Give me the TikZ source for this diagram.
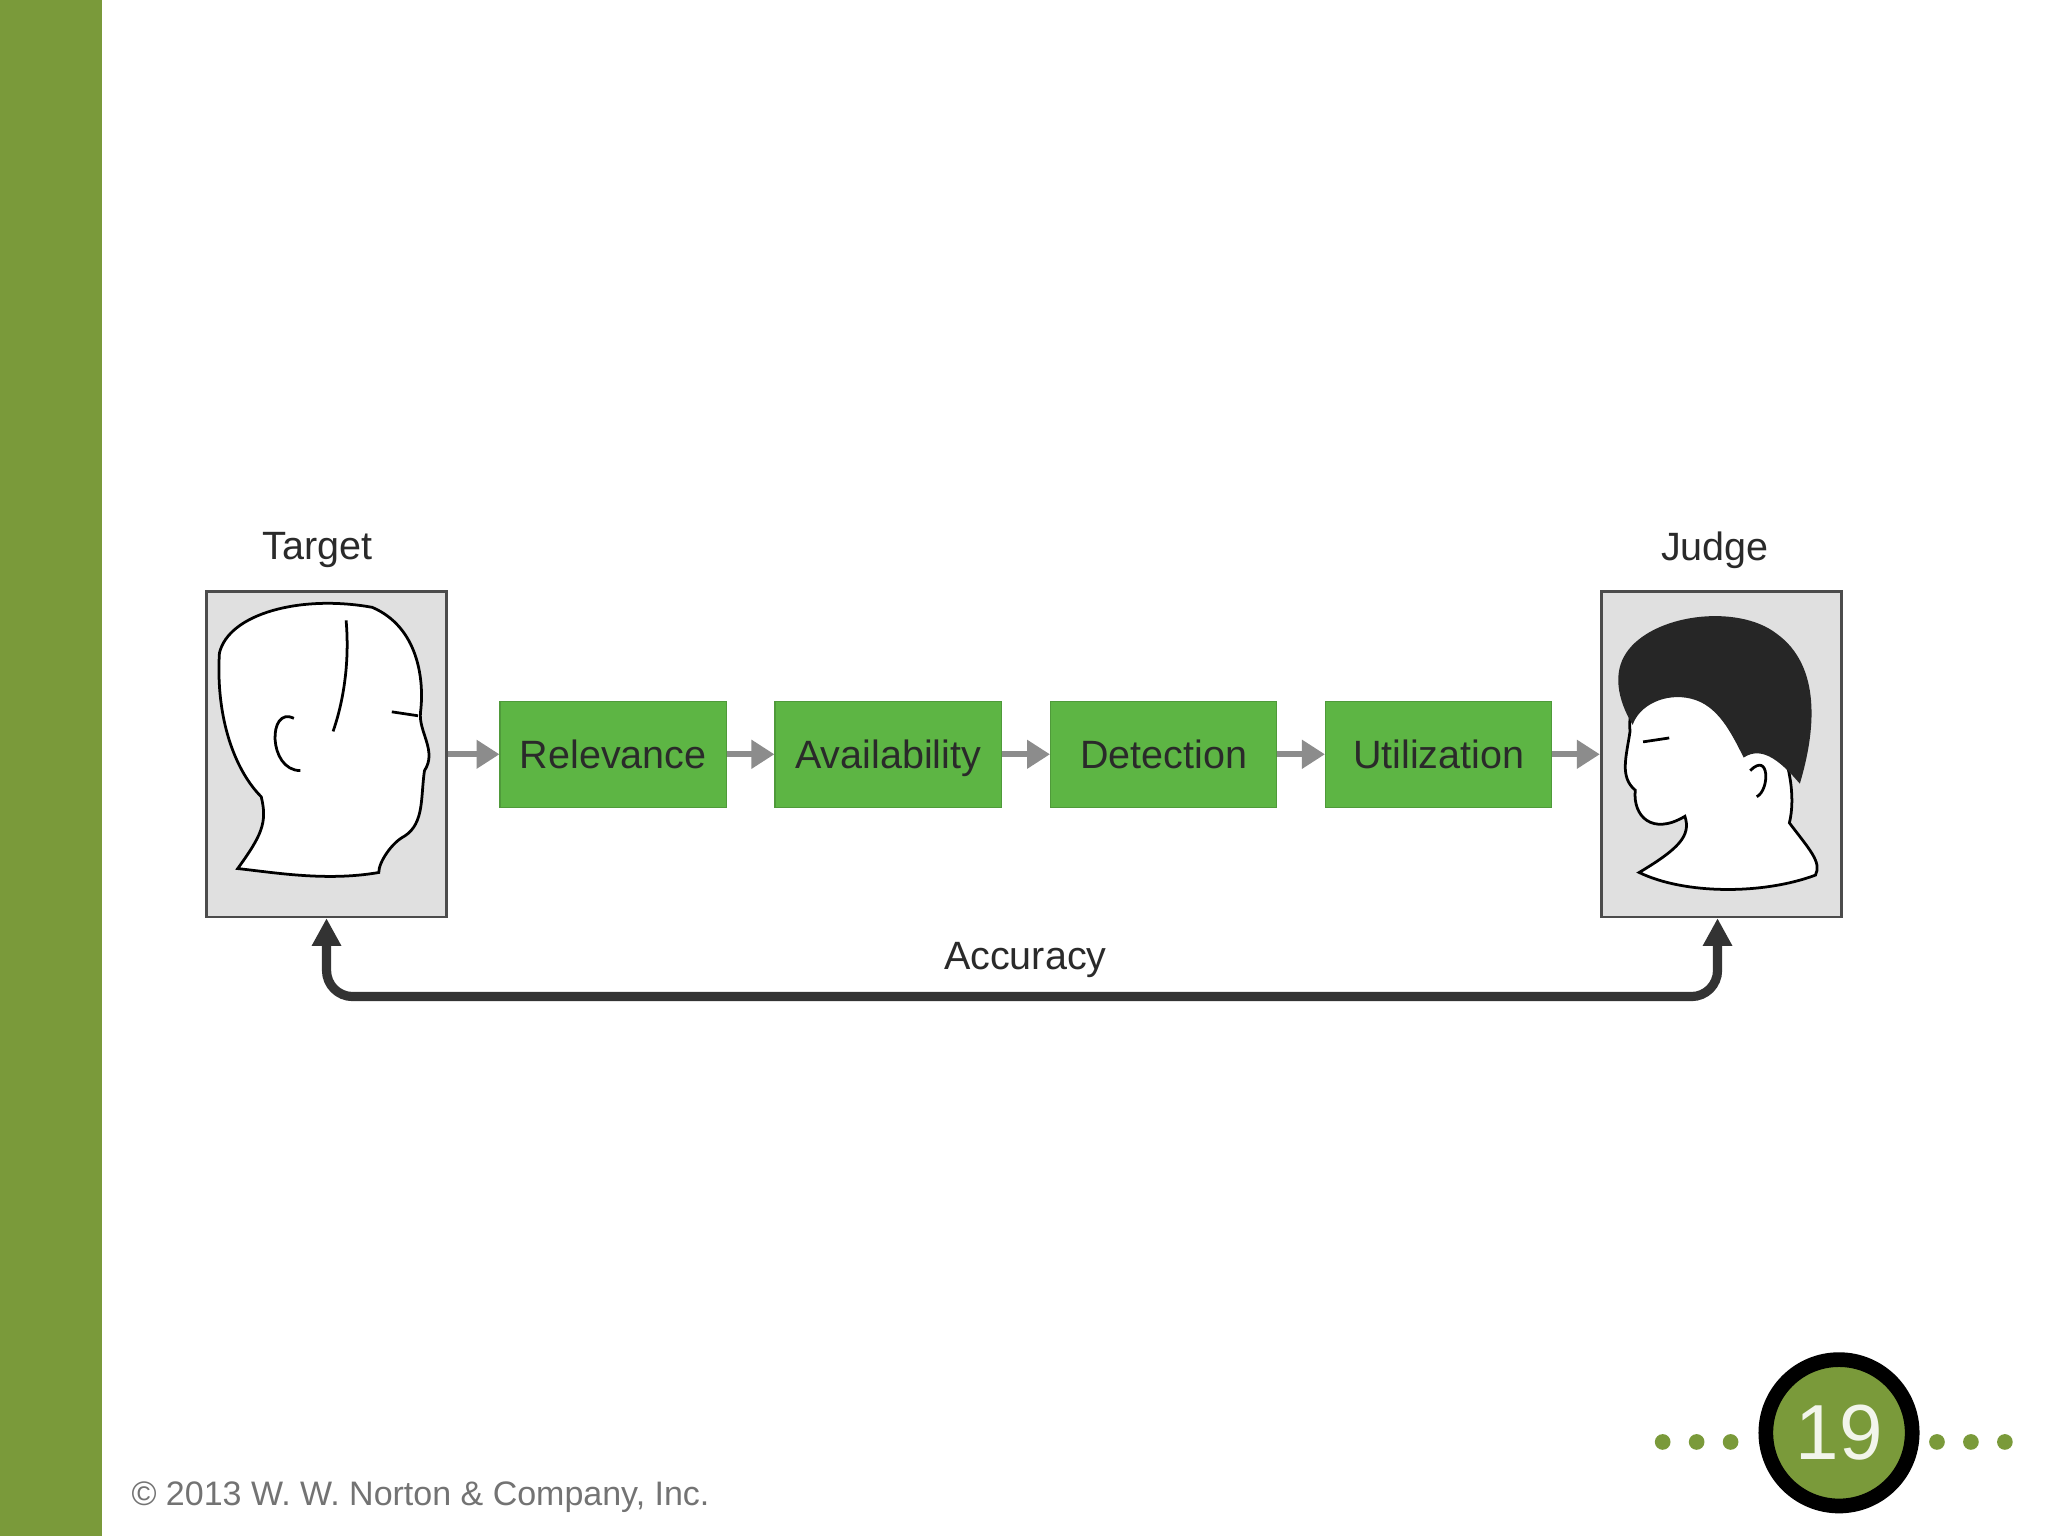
\documentclass[tikz,border=0pt]{standalone}
\usepackage{fontspec}
\setmainfont{Liberation Sans}
\usetikzlibrary{arrows.meta}
\definecolor{bar}{HTML}{7A9A3A}
\definecolor{boxg}{HTML}{5DB544}
\definecolor{txt}{HTML}{2A2A2A}
\begin{document}
\begin{tikzpicture}[x=0.01cm,y=-0.01cm,
  stage/.style={draw=boxg!85!black,line width=0.3pt,fill=boxg,minimum width=1.73cm,minimum height=0.81cm,inner sep=0pt,text height=1.6ex,text depth=0.4ex,font=\fontsize{8.6}{10}\selectfont,text=txt},
  face/.style={draw=black!70,line width=0.6pt,fill=black!12},
  garr/.style={draw=black!45,line width=1.4pt,-{Triangle[length=5pt,width=6pt]}},
  lbl/.style={font=\fontsize{8.6}{10}\selectfont,text=txt},
  dot/.style={circle,fill=bar,minimum size=0.12cm,inner sep=0pt}]
\useasboundingbox (0,0) rectangle (1568,1176);
\fill[white] (0,0) rectangle (1568,1176);
\fill[bar] (0,0) rectangle (78,1176);
% face boxes
\node[face,minimum width=1.84cm,minimum height=2.49cm,inner sep=0pt] (target) at (250,577.5) {};
\node[face,minimum width=1.84cm,minimum height=2.49cm,inner sep=0pt] (judge) at (1318,577.5) {};
% target head
\fill[white,draw=black,line width=0.6pt] (182,665) .. controls (200,640) and (205,630) .. (200,610)
 .. controls (180,590) and (165,550) .. (168,500) .. controls (175,470) and (230,455) .. (285,465)
 .. controls (320,480) and (325,520) .. (322,545) .. controls (320,560) and (335,575) .. (325,590)
 .. controls (322,610) and (325,630) .. (310,640) .. controls (300,645) and (290,660) .. (290,668)
 .. controls (250,675) and (210,668) .. (182,665) -- cycle;
\draw[black,line width=0.6pt] (225,550) .. controls (205,540) and (205,590) .. (230,590);
\draw[black,line width=0.6pt] (300,545) -- (320,548);
\draw[black,line width=0.6pt] (265,475) .. controls (268,510) and (262,540) .. (255,560);
% judge head (facing left)
\fill[white,draw=black,line width=0.6pt] (1255,668) .. controls (1285,650) and (1295,640) .. (1290,625)
 .. controls (1265,640) and (1250,625) .. (1252,605) .. controls (1240,595) and (1245,580) .. (1248,560)
 .. controls (1245,530) and (1270,505) .. (1310,510) .. controls (1350,520) and (1380,590) .. (1370,630)
 .. controls (1385,650) and (1395,660) .. (1390,670) .. controls (1350,685) and (1290,685) .. (1255,668) -- cycle;
\fill[black!85] (1245,500) .. controls (1265,470) and (1330,462) .. (1360,485)
 .. controls (1395,510) and (1390,560) .. (1378,600) .. controls (1365,585) and (1350,570) .. (1335,580)
 .. controls (1325,560) and (1315,540) .. (1295,535) .. controls (1275,530) and (1255,540) .. (1250,555)
 .. controls (1238,535) and (1235,515) .. (1245,500) -- cycle;
\draw[black,line width=0.6pt] (1340,590) .. controls (1355,575) and (1355,605) .. (1345,610);
\draw[black,line width=0.6pt] (1258,568) -- (1278,565);
% stages
\node[stage] (rel) at (469.5,577.5) {Relevance};
\node[stage] (ava) at (680,577.5) {Availability};
\node[stage] (det) at (891,577.5) {Detection};
\node[stage] (uti) at (1101.5,577.5) {Utilization};
\draw[garr] (target.east) -- (rel.west);
\draw[garr] (rel) -- (ava);
\draw[garr] (ava) -- (det);
\draw[garr] (det) -- (uti);
\draw[garr] (uti.east) -- (judge.west);
% labels
\node[lbl] (tl) at (243,421) {Target};
\node[lbl] (jl) at (1313,421) {Judge};
\node[lbl] (acc) at (785,735) {Accuracy};
% accuracy loop
\coordinate (ta) at (250,703);
\coordinate (ja) at (1315,703);
\draw[black!80,line width=2pt,rounded corners=0.2cm,{Triangle[length=6pt,width=6pt]}-{Triangle[length=6pt,width=6pt]}]
  (ta) -- (250,763) -- (1315,763) -- (ja);
% page number
\node[circle,draw=black,line width=3.2pt,fill=bar,minimum size=1.12cm,inner sep=0pt,text=white!90!bar,font=\fontsize{17}{20}\selectfont] (pg) at (1408,1097) {19};
\foreach \x/\n in {1273/a,1299/b,1325/c,1483/d,1509/e,1535/f} \node[dot] (d\n) at (\x,1104) {};
\node[anchor=west,inner sep=0pt,text=black!55,font=\fontsize{7.4}{9}\selectfont] (copy) at (100,1146) {© 2013 W. W. Norton \& Company, Inc.};
\end{tikzpicture}
\end{document}
